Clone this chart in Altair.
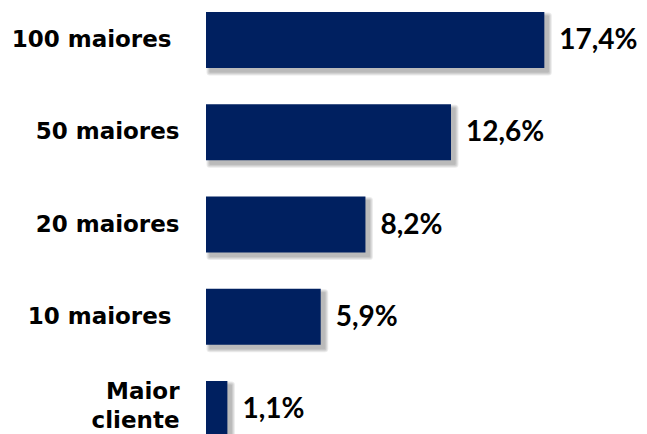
import altair as alt
import pandas as pd

categories = ["100 maiores ", "50 maiores", "20 maiores", "10 maiores ", "Maior\ncliente"]
values = [17.4, 12.6, 8.2, 5.9, 1.1]

df = pd.DataFrame({"cat": categories, "v": values})

y_enc = alt.Y(
    "cat:N",
    sort=categories,
    scale=alt.Scale(range=[0, 433], paddingInner=0.393, paddingOuter=0.0434),
    axis=alt.Axis(
        title=None, domain=False, ticks=False, labelFont="DejaVu Sans",
        labelFontWeight="bold", labelFontSize=23, labelColor="#000000",
        labelPadding={"condition": {"test": "slice(datum.label, -1) == ' '", "value": 35}, "value": 27},
        labelOffset={"condition": {"test": "indexof(datum.label, '\\n') >= 0", "value": -17}, "value": 0},
        labelLimit=400, labelLineHeight=29,
        labelExpr="split(datum.label, '\\n')",
    ),
)
x_enc = alt.X("v:Q", scale=alt.Scale(domain=[0, 21.6]), axis=None)

base = alt.Chart(df).encode(y=y_enc, x=x_enc)

shadows = [
    base.mark_bar(color="#000000", stroke="#000000", strokeWidth=w, opacity=0.07,
                  xOffset=4, x2Offset=4, yOffset=4, strokeJoin="round")
    for w in [1, 3, 5, 7]
]

bars = base.mark_bar(color="#002060")

labels = base.transform_calculate(
    lab="replace(format(datum.v, '.1f'), '.', ',') + '%'"
).mark_text(
    align="left", baseline="middle", dx=15, dy=1, font="Lato", fontWeight="bold",
    fontSize=28, color="#000000"
).encode(text="lab:N")

chart = alt.layer(*shadows, bars, labels).properties(
    width=420, height=426,
    padding={"left": 198, "top": 0, "right": 13, "bottom": 0},
    autosize=alt.AutoSizeParams(type="none"),
).configure_view(stroke=None)

chart.save("out.html", embed_options={"renderer": "svg", "actions": False})
